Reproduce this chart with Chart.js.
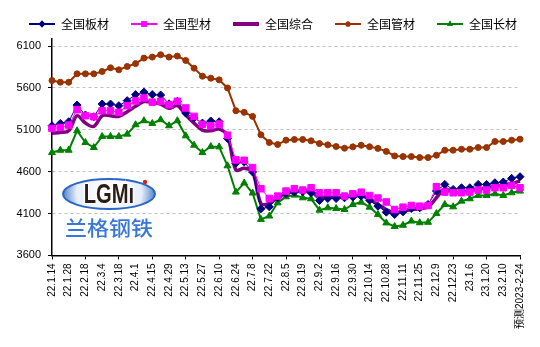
<!DOCTYPE html>
<html>
<head>
<meta charset="utf-8">
<script src="https://cdn.jsdelivr.net/npm/chart.js@4"></script>
<style>
  body { margin: 0; background: #fff; }
  #wrap { width: 540px; height: 347px; position: relative; }
</style>
</head>
<body>
<div id="wrap"><canvas id="steelPrice"></canvas></div>
<script>
// 周度日期，每隔一周显示一个标签
const weeks = [
  "22.1.14", "22.1.21", "22.1.28", "22.2.11", "22.2.18", "22.2.25", "22.3.4", "22.3.11", "22.3.18", "22.3.25",
  "22.4.1", "22.4.8", "22.4.15", "22.4.22", "22.4.29", "22.5.6", "22.5.13", "22.5.20", "22.5.27", "22.6.2",
  "22.6.10", "22.6.17", "22.6.24", "22.7.1", "22.7.8", "22.7.15", "22.7.22", "22.7.29", "22.8.5", "22.8.12",
  "22.8.19", "22.8.26", "22.9.2", "22.9.9", "22.9.16", "22.9.23", "22.9.30", "22.10.8", "22.10.14", "22.10.21",
  "22.10.28", "22.11.4", "22.11.11", "22.11.18", "22.11.25", "22.12.2", "22.12.9", "22.12.16", "22.12.23", "22.12.30",
  "23.1.6", "23.1.13", "23.1.20", "23.2.3", "23.2.10", "23.2.17", "预测2023-2-24"
];

// 全国板材
const plate = [
  5148, 5176, 5196, 5396, 5276, 5256, 5408, 5408, 5388, 5448,
  5520, 5550, 5520, 5515, 5410, 5440, 5300, 5240, 5180, 5205,
  5196, 4996, 4700, 4716, 4596, 4156, 4180, 4288, 4340, 4356,
  4360, 4348, 4256, 4280, 4280, 4288, 4296, 4308, 4260, 4188,
  4116, 4088, 4120, 4160, 4168, 4208, 4368, 4448, 4388, 4408,
  4408, 4448, 4448, 4468, 4476, 4520, 4540
];
// 全国型材
const section = [
  5116, 5128, 5156, 5340, 5268, 5256, 5328, 5328, 5308, 5388,
  5445, 5480, 5430, 5440, 5400, 5440, 5360, 5260, 5165, 5148,
  5168, 5036, 4740, 4736, 4648, 4396, 4280, 4308, 4368, 4396,
  4380, 4408, 4348, 4348, 4348, 4308, 4336, 4355, 4315, 4285,
  4238, 4148, 4176, 4196, 4188, 4196, 4420, 4356, 4348, 4348,
  4356, 4380, 4380, 4408, 4408, 4436, 4408
];
// 全国综合
const composite = [
  5060, 5068, 5088, 5268, 5180, 5140, 5268, 5268, 5260, 5316,
  5380, 5436, 5428, 5408, 5356, 5388, 5276, 5180, 5096, 5088,
  5108, 5028, 4620, 4640, 4600, 4220, 4220, 4290, 4340, 4365,
  4375, 4368, 4300, 4296, 4296, 4300, 4308, 4316, 4270, 4208,
  4148, 4108, 4128, 4148, 4156, 4180, 4288, 4396, 4348, 4356,
  4368, 4396, 4408, 4428, 4440, 4460, 4488
];
// 全国管材
const pipe = [
  5688, 5668, 5668, 5768, 5768, 5768, 5796, 5840, 5816, 5856,
  5890, 5956, 5968, 5996, 5968, 5980, 5928, 5836, 5740, 5716,
  5696, 5600, 5328, 5308, 5260, 5040, 4948, 4924, 4976, 4984,
  4984, 4968, 4936, 4920, 4900, 4880, 4896, 4915, 4898, 4878,
  4842, 4788, 4780, 4780, 4768, 4768, 4796, 4856, 4856, 4868,
  4868, 4888, 4888, 4960, 4960, 4976, 4988
];
// 全国长材
const longSteel = [
  4828, 4856, 4856, 5088, 4948, 4888, 5020, 5020, 5020, 5048,
  5160, 5208, 5176, 5220, 5148, 5208, 5028, 4916, 4828, 4900,
  4896, 4670, 4356, 4465, 4345, 4030, 4070, 4228, 4300, 4320,
  4288, 4276, 4140, 4168, 4160, 4148, 4208, 4236, 4176, 4088,
  3988, 3945, 3960, 4010, 3990, 3995, 4100, 4208, 4180, 4248,
  4276, 4316, 4316, 4336, 4316, 4348, 4368
];

const yTicks = [3600, 4100, 4600, 5100, 5600, 6100];

const series = [
  { label: "全国板材", data: plate, color: "#000080", width: 1, marker: "rectRot", r: 4, order: 1 },
  { label: "全国型材", data: section, color: "#ff00ff", width: 1, marker: "rect", r: 4.6, order: 0 },
  { label: "全国综合", data: composite, color: "#800080", width: 3.5, marker: false, r: 0, order: 3, tension: 0.35 },
  { label: "全国管材", data: pipe, color: "#993300", width: 2, marker: "circle", r: 3, order: 4 },
  { label: "全国长材", data: longSteel, color: "#008000", width: 2, marker: "triangle", r: 4, order: 2 }
];

// 图例小图标：线段 + 中间的标记
function legendIcon(s) {
  const c = document.createElement("canvas");
  c.width = 32; c.height = 12;
  const g = c.getContext("2d");
  g.strokeStyle = s.color;
  g.lineWidth = s.marker ? 2 : 4;
  g.beginPath(); g.moveTo(6, 6); g.lineTo(32, 6); g.stroke();
  if (s.marker) {
    g.fillStyle = s.color;
    Chart.helpers.drawPoint(g, { pointStyle: s.marker, radius: s.r * 0.85, rotation: 0, borderWidth: 0 }, 19, 6);
    g.fill();
  }
  return c;
}

// 图例高度微调
const legendHeight = {
  id: "legendHeight",
  beforeInit(chart) {
    const fit = chart.legend.fit;
    chart.legend.fit = function () {
      fit.call(this);
      this.height -= 1;
    };
  }
};

// 兰格钢铁标志
const logoPlugin = {
  id: "logo",
  beforeDatasetsDraw(chart) {
    const ctx = chart.ctx;
    const cx = 109, cy = 194;
    ctx.save();
    const grad = ctx.createRadialGradient(cx, cy - 3, 6, cx, cy, 50);
    grad.addColorStop(0, "#ffffff");
    grad.addColorStop(0.6, "#e6eef9");
    grad.addColorStop(1, "#2a63bd");
    ctx.beginPath();
    ctx.ellipse(cx, cy, 46, 15, 0, 0, Math.PI * 2);
    ctx.fillStyle = grad;
    ctx.fill();
    ctx.lineWidth = 2;
    ctx.strokeStyle = "#2a66c4";
    ctx.stroke();

    ctx.translate(cx, cy + 1);
    ctx.scale(0.72, 1);
    ctx.font = 'bold 28px "Liberation Sans"';
    ctx.textAlign = "center";
    ctx.textBaseline = "middle";
    ctx.lineWidth = 2;
    ctx.strokeStyle = "#ffffff";
    ctx.strokeText("LGMı", 0, 0);
    ctx.fillStyle = "#2b1d16";
    ctx.fillText("LGMı", 0, 0);
    ctx.setTransform(1, 0, 0, 1, 0, 0);
    ctx.beginPath();
    ctx.arc(145, 182, 2.2, 0, Math.PI * 2);
    ctx.fillStyle = "#e02020";
    ctx.fill();

    ctx.font = '500 20px "Noto Sans CJK SC"';
    ctx.fillStyle = "#3a78d8";
    ctx.textAlign = "center";
    ctx.textBaseline = "middle";
    ctx.translate(cx, 228);
    ctx.scale(1.1, 1);
    ctx.fillText("兰格钢铁", 0, 0);
    ctx.restore();
  }
};

new Chart("steelPrice", {
  type: "line",
  data: {
    labels: weeks,
    datasets: series.map(s => ({
      label: s.label,
      data: s.data,
      borderColor: s.color,
      backgroundColor: s.color,
      borderWidth: s.width,
      pointStyle: s.marker,
      pointRadius: s.r,
      pointBorderWidth: 1,
      pointHoverRadius: s.r,
      tension: s.tension || 0,
      fill: false,
      order: s.order
    }))
  },
  options: {
    responsive: true,
    maintainAspectRatio: false,
    animation: false,
    layout: { padding: { top: 2, left: 0, right: 0, bottom: 14 } },
    plugins: {
      tooltip: { enabled: false },
      legend: {
        position: "top",
        labels: {
          usePointStyle: true,
          pointStyleWidth: 32,
          padding: 16,
          color: "#000",
          font: { family: '"Noto Sans CJK SC"', size: 12 },
          sort: (a, b) => a.datasetIndex - b.datasetIndex,
          generateLabels(chart) {
            const items = Chart.defaults.plugins.legend.labels.generateLabels(chart);
            items.forEach(it => { it.pointStyle = legendIcon(series[it.datasetIndex]); });
            return items;
          }
        }
      }
    },
    scales: {
      x: {
        offset: false,
        grid: {
          drawOnChartArea: false,
          drawTicks: true,
          tickLength: 4,
          tickColor: ctx => (ctx.index % 2 ? "rgba(0,0,0,0)" : "#000")
        },
        border: { color: "#000", width: 1.5 },
        ticks: {
          autoSkip: false,
          minRotation: 90,
          maxRotation: 90,
          padding: 4,
          color: "#000",
          font: { family: '"Liberation Sans", "Noto Sans CJK SC"', size: 10 },
          callback: function (v, i) { return i % 2 ? null : weeks[i]; }
        }
      },
      y: {
        min: 3600,
        max: 6184,
        afterBuildTicks: scale => { scale.ticks = yTicks.map(v => ({ value: v })); },
        afterFit: scale => { scale.width = 52; },
        grid: {
          color: "#c0c0c0",
          tickLength: 4,
          tickColor: "#000",
          tickBorderDash: []
        },
        border: { color: "#000", width: 1.5, dash: [3, 3] },
        ticks: {
          padding: 7,
          color: "#000",
          font: { family: '"Liberation Sans"', size: 11 },
          callback: v => String(v)
        }
      },
      // 右侧留白
      gap: {
        position: "right",
        grid: { display: false },
        border: { display: false },
        ticks: { display: false },
        afterFit: scale => { scale.width = 20; }
      }
    }
  },
  plugins: [legendHeight, logoPlugin]
});
</script>
</body>
</html>
